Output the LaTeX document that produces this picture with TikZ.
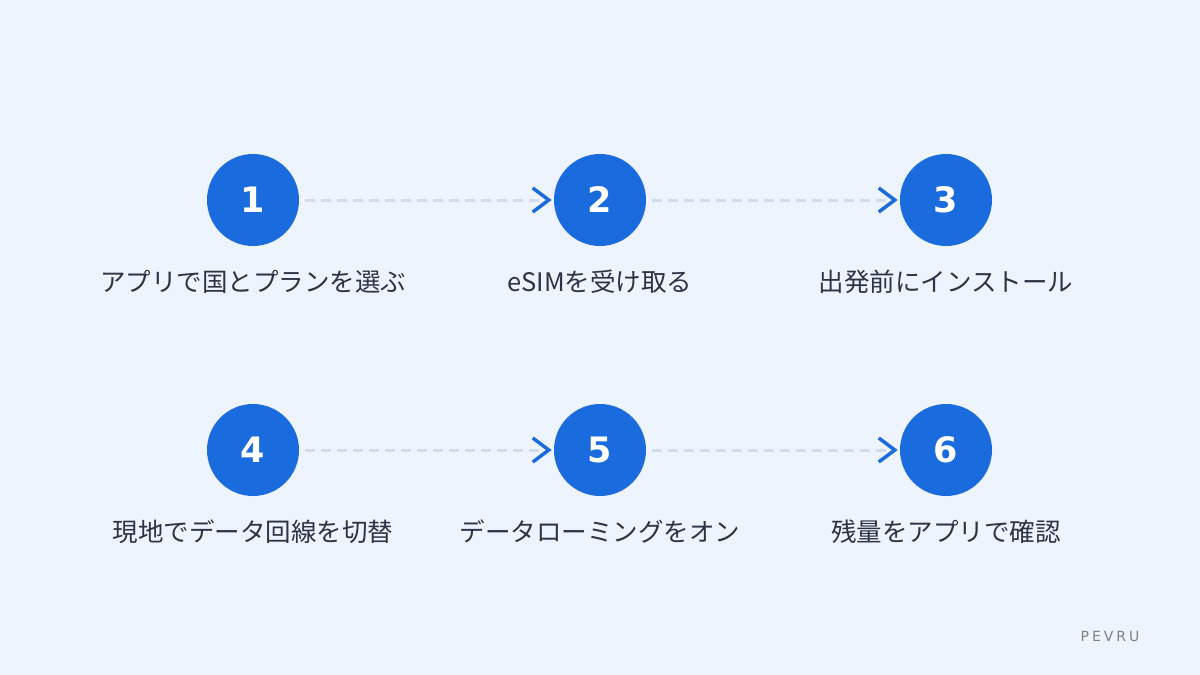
\documentclass[tikz,border=0pt]{standalone}
\usepackage{fontspec}
\setmainfont{DejaVu Sans}
\newfontfamily\cjk{Noto Sans CJK JP}
\definecolor{bg}{HTML}{EEF4FE}
\definecolor{blu}{HTML}{1A6BDD}
\definecolor{dsh}{HTML}{D0DCF0}
\definecolor{txt}{HTML}{2B3445}
\begin{document}
\begin{tikzpicture}[x=1pt,y=-1pt,
  stepc/.style={circle,fill=blu,minimum size=92pt,inner sep=0pt,text=white,font=\bfseries\fontsize{35}{38}\selectfont},
  lab/.style={text=txt,font=\cjk\fontsize{25.5}{28}\selectfont},
  conn/.style={dsh,line width=3pt,dash pattern=on 10pt off 6pt},
  chev/.style={blu,line width=3.5pt}]
\fill[bg] (0,0) rectangle (1200,675);
\useasboundingbox (0,0) rectangle (1200,675);
\foreach \n/\x/\y in {1/253/200,2/600/200,3/946/200,4/253/450,5/600/450,6/946/450}
  \node[stepc] (s\n) at (\x,\y) {\n};
\node[lab] (l1) at (253,282) {アプリで国とプランを選ぶ};
\node[lab] (l2) at (600,282) {eSIMを受け取る};
\node[lab] (l3) at (946,282) {出発前にインストール};
\node[lab] (l4) at (253,532) {現地でデータ回線を切替};
\node[lab] (l5) at (600,532) {データローミングをオン};
\node[lab] (l6) at (946,532) {残量をアプリで確認};
\foreach \a/\b in {1/2,2/3,4/5,5/6}{
  \draw[conn] ([xshift=6pt]s\a.east) -- ([xshift=-14pt]s\b.west);
  \draw[chev] ([xshift=-21pt,yshift=-12pt]s\b.west) -- ([xshift=-5pt]s\b.west) -- ([xshift=-21pt,yshift=12pt]s\b.west);
}
\node[text=gray,font=\fontsize{14}{16}\selectfont] (brand) at (1110,636) {P\hspace{3pt}E\hspace{3pt}V\hspace{3pt}R\hspace{3pt}U};
\end{tikzpicture}
\end{document}
